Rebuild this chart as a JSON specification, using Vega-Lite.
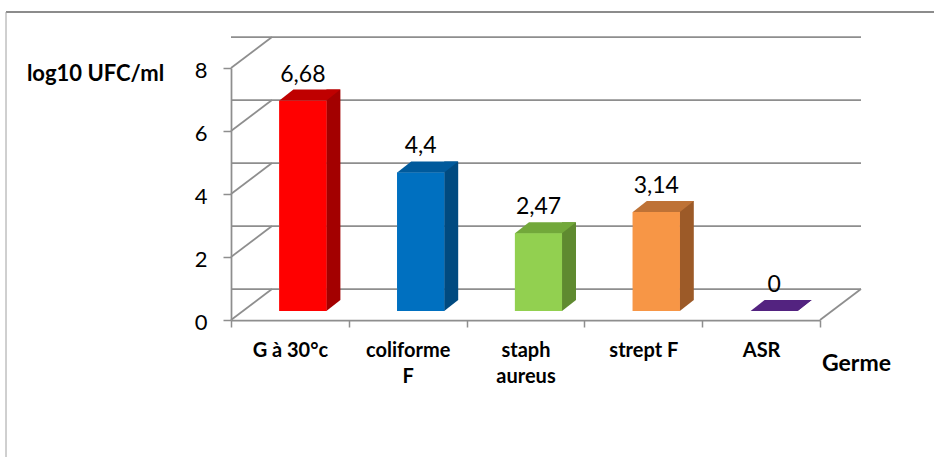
{
  "$schema": "https://vega.github.io/schema/vega-lite/v6.json",
  "width": 589,
  "height": 252,
  "autosize": {"type": "none"},
  "padding": {"left": 231, "top": 68, "right": 114, "bottom": 137},
  "background": "white",
  "config": {
    "view": {"stroke": null},
    "font": "Lato",
    "locale": {
      "number": {"decimal": ",", "thousands": " ", "grouping": [3], "currency": ["", " €"]}
    }
  },
  "datasets": {
    "germes": [
      {"germe": "G à 30°c", "ufc": 6.68},
      {"germe": "coliforme F", "ufc": 4.4},
      {"germe": "staph aureus", "ufc": 2.47},
      {"germe": "strept F", "ufc": 3.14},
      {"germe": "ASR", "ufc": 0}
    ],
    "graduations": [{"g": 0}, {"g": 2}, {"g": 4}, {"g": 6}, {"g": 8}]
  },
  "resolve": {"scale": {"color": "independent"}},
  "layer": [
    {
      "description": "bar front faces, with both axes",
      "data": {"name": "germes"},
      "mark": {"type": "bar", "width": {"band": 0.4}, "xOffset": 13, "yOffset": -9, "y2Offset": -9},
      "encoding": {
        "x": {
          "field": "germe", "type": "nominal",
          "scale": {"domain": ["G à 30°c", "coliforme F", "staph aureus", "strept F", "ASR"], "paddingInner": 0, "paddingOuter": 0},
          "axis": {
            "title": "Germe", "titleX": 625, "titleY": 43, "titleAlign": "center", "titleBaseline": "middle",
            "titleFontSize": 23, "titleFontWeight": "bold", "titleFont": "Lato", "titleColor": "#000000",
            "labelAngle": 0, "labelAlign": "center", "labelFontSize": 20, "labelFontWeight": "bold", "labelFont": "Lato", "labelColor": "#000000",
            "labelPadding": 13, "labelLineHeight": 26, "labelBaseline": "top",
            "labelExpr": "datum.value == 'coliforme F' ? ['coliforme', 'F'] : datum.value == 'staph aureus' ? ['staph', 'aureus'] : datum.value",
            "tickBand": "extent", "tickSize": 7, "tickColor": "#8e8e8e", "tickWidth": 1.5,
            "domainColor": "#8e8e8e", "domainWidth": 1.75, "grid": false
          }
        },
        "y": {
          "field": "ufc", "type": "quantitative",
          "scale": {"domain": [0, 8], "nice": false},
          "axis": {
            "title": "log10 UFC/ml", "titleAngle": 0, "titleX": -136, "titleY": 5, "titleAlign": "center", "titleBaseline": "middle",
            "titleFontSize": 22, "titleFontWeight": "bold", "titleFont": "Lato", "titleColor": "#000000",
            "values": [0, 2, 4, 6, 8], "labelFontSize": 22, "labelFont": "Lato", "labelColor": "#000000",
            "labelPadding": 16, "labelOffset": 2,
            "tickSize": 8, "tickColor": "#8e8e8e", "tickWidth": 1.5,
            "domainColor": "#8e8e8e", "domainWidth": 1.75, "grid": false
          }
        },
        "color": {
          "field": "germe", "type": "nominal", "legend": null,
          "scale": {"domain": ["G à 30°c", "coliforme F", "staph aureus", "strept F", "ASR"],
                    "range": ["#ff0000", "#0070c0", "#92d050", "#f79646", "#5b2c8a"]}
        }
      }
    },
    {
      "description": "chart area border, top edge",
      "data": {"values": [{}]},
      "mark": {"type": "point", "shape": "M-225,-56L720,-56", "size": 4, "filled": false, "opacity": 1, "color": "#8c8c8c", "strokeWidth": 2},
      "encoding": {
        "x": {"datum": "G à 30°c", "type": "nominal", "bandPosition": 0},
        "y": {"datum": 8, "type": "quantitative"}
      }
    },
    {
      "description": "chart area border, left edge",
      "data": {"values": [{}]},
      "mark": {"type": "point", "shape": "M-225,-56L-225,400", "size": 4, "filled": false, "opacity": 1, "color": "#a0a0a0", "strokeWidth": 1},
      "encoding": {
        "x": {"datum": "G à 30°c", "type": "nominal", "bandPosition": 0},
        "y": {"datum": 8, "type": "quantitative"}
      }
    },
    {
      "description": "back wall gridlines",
      "data": {"name": "graduations"},
      "mark": {"type": "rule", "color": "#8e8e8e", "strokeWidth": 1.75, "xOffset": 41, "x2Offset": 41, "yOffset": -31},
      "encoding": {"y": {"field": "g", "type": "quantitative"}}
    },
    {
      "description": "side wall diagonals",
      "data": {"name": "graduations"},
      "mark": {"type": "point", "shape": "M0,0L41,-31", "size": 4, "filled": false, "opacity": 1, "color": "#8e8e8e", "strokeWidth": 1.75},
      "encoding": {
        "x": {"datum": "G à 30°c", "type": "nominal", "bandPosition": 0},
        "y": {"field": "g", "type": "quantitative"}
      }
    },
    {
      "description": "floor, right edge",
      "data": {"values": [{}]},
      "mark": {"type": "point", "shape": "M0,0L41,-31", "size": 4, "filled": false, "opacity": 1, "color": "#8e8e8e", "strokeWidth": 1.75},
      "encoding": {
        "x": {"datum": "ASR", "type": "nominal", "bandPosition": 1},
        "y": {"datum": 0, "type": "quantitative"}
      }
    },
    {
      "description": "bar side faces",
      "data": {"name": "germes"},
      "mark": {"type": "bar", "width": 14, "xOffset": 43.5, "yOffset": -20, "y2Offset": -20},
      "encoding": {
        "x": {"field": "germe", "type": "nominal"},
        "y": {"field": "ufc", "type": "quantitative"},
        "color": {
          "field": "germe", "type": "nominal", "legend": null,
          "scale": {"domain": ["G à 30°c", "coliforme F", "staph aureus", "strept F", "ASR"],
                    "range": ["#a30000", "#004a80", "#5f8a30", "#9c5a28", "#4a1f73"]}
        }
      }
    },
    {
      "description": "bar side faces, lower corner",
      "data": {"name": "germes"},
      "mark": {"type": "point", "shape": "M36.5,-20L36.5,-9L50.5,-20Z", "size": 4, "filled": true, "opacity": 1, "strokeWidth": 0},
      "encoding": {
        "x": {"field": "germe", "type": "nominal"},
        "y": {"datum": 0, "type": "quantitative"},
        "color": {
          "field": "germe", "type": "nominal", "legend": null,
          "scale": {"domain": ["G à 30°c", "coliforme F", "staph aureus", "strept F", "ASR"],
                    "range": ["#a30000", "#004a80", "#5f8a30", "#9c5a28", "#4a1f73"]}
        }
      }
    },
    {
      "description": "bar front faces, redrawn over the floor lines",
      "data": {"name": "germes"},
      "mark": {"type": "bar", "width": {"band": 0.4}, "xOffset": 13, "yOffset": -9, "y2Offset": -9},
      "encoding": {
        "x": {"field": "germe", "type": "nominal"},
        "y": {"field": "ufc", "type": "quantitative"},
        "color": {
          "field": "germe", "type": "nominal", "legend": null,
          "scale": {"domain": ["G à 30°c", "coliforme F", "staph aureus", "strept F", "ASR"],
                    "range": ["#ff0000", "#0070c0", "#92d050", "#f79646", "#5b2c8a"]}
        }
      }
    },
    {
      "description": "bar top faces",
      "data": {"name": "germes"},
      "mark": {"type": "point", "shape": "M-10.5,-9L36.5,-9L50.5,-20L3.5,-20Z", "size": 4, "filled": true, "opacity": 1, "strokeWidth": 0},
      "encoding": {
        "x": {"field": "germe", "type": "nominal"},
        "y": {"field": "ufc", "type": "quantitative"},
        "color": {
          "field": "germe", "type": "nominal", "legend": null,
          "scale": {"domain": ["G à 30°c", "coliforme F", "staph aureus", "strept F", "ASR"],
                    "range": ["#bf0000", "#005a9c", "#72a83a", "#be7236", "#532380"]}
        }
      }
    },
    {
      "description": "value labels",
      "data": {"name": "germes"},
      "mark": {"type": "text", "xOffset": 13, "yOffset": -28, "baseline": "alphabetic", "align": "center", "fontSize": 23, "font": "Lato", "color": "#000000"},
      "encoding": {
        "x": {"field": "germe", "type": "nominal"},
        "y": {"field": "ufc", "type": "quantitative"},
        "text": {"field": "ufc", "type": "quantitative"}
      }
    }
  ]
}
